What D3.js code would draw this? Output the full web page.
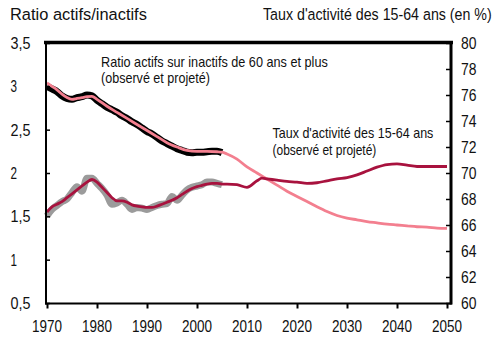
<!DOCTYPE html>
<html><head><meta charset="utf-8">
<script src="https://cdn.jsdelivr.net/npm/d3@7"></script>
<style>
body{margin:0;background:#fff;}
svg{display:block;}
text{font-family:"Liberation Sans Narrow","Arial Narrow","Liberation Sans",Arial,sans-serif;fill:#111;}
</style></head>
<body><svg id="c" width="504" height="347"></svg>
<script>
// ---- data ----
const obsYears = d3.range(1970, 2006);
const ratioObserved = [3.00,2.97,2.94,2.89,2.86,2.85,2.87,2.88,2.90,2.89,2.84,2.80,2.76,2.73,2.70,2.66,2.63,2.59,2.56,2.52,2.48,2.45,2.41,2.37,2.34,2.31,2.28,2.26,2.24,2.235,2.24,2.24,2.245,2.25,2.25,2.235];
const activityObserved = [66.7,67.2,67.5,67.8,68.0,68.5,68.95,68.6,69.6,69.6,69.2,68.8,68.3,67.6,67.7,67.9,67.6,67.2,67.35,67.3,67.2,67.35,67.5,67.6,67.65,68.2,67.9,68.3,68.7,68.9,69.0,69.1,69.3,69.3,69.2,69.1];

const ratioYears = [1970,1971,1972,1973,1974,1975,1976,1977,1978,1979,1980,1982,1984,1986,1988,1990,1992,1994,1996,1998,2000,2002,2004,2005,2006,2008,2010,2012,2014,2016,2018,2020,2022,2024,2026,2028,2030,2032,2034,2036,2038,2040,2042,2044,2046,2048,2050];
const ratioValues = [3.04,3.00,2.96,2.91,2.87,2.85,2.86,2.87,2.88,2.885,2.85,2.77,2.70,2.63,2.56,2.49,2.42,2.35,2.30,2.26,2.25,2.25,2.245,2.24,2.22,2.16,2.07,2.00,1.93,1.86,1.79,1.73,1.67,1.61,1.555,1.51,1.48,1.46,1.44,1.425,1.41,1.40,1.39,1.38,1.375,1.365,1.36];

const activityYears = [1970,1971,1972,1973,1974,1975,1976,1977,1978,1979,1980,1981,1982,1983,1984,1985,1986,1987,1988,1989,1990,1991,1992,1993,1994,1995,1996,1997,1998,1999,2000,2001,2002,2003,2004,2005,2006,2008,2010,2012,2013,2014,2016,2018,2020,2022,2024,2026,2028,2030,2032,2034,2036,2038,2040,2042,2044,2046,2048,2050];
const activityValues = [67.0,67.4,67.6,67.8,68.1,68.4,68.7,69.0,69.3,69.5,69.3,68.9,68.5,68.1,67.85,67.85,67.75,67.55,67.45,67.4,67.35,67.35,67.45,67.6,67.75,67.9,68.1,68.35,68.6,68.8,68.95,69.05,69.15,69.2,69.2,69.15,69.15,69.1,68.9,69.4,69.6,69.55,69.45,69.35,69.3,69.2,69.25,69.4,69.55,69.65,69.85,70.15,70.45,70.65,70.7,70.6,70.5,70.5,70.5,70.5];

const xTicks = [1970,1980,1990,2000,2010,2020,2030,2040,2050];
const leftTicks = [0.5,1,1.5,2,2.5,3,3.5];
const rightTicks = [60,62,64,66,68,70,72,74,76,78,80];
const titleLeft = "Ratio actifs/inactifs";
const titleRight = "Taux d'activité des 15-64 ans (en %)";
const noteRatio = ["Ratio actifs sur inactifs de 60 ans et plus", "(observé et projeté)"];
const noteActivity = ["Taux d'activité des 15-64 ans", "(observé et projeté)"];

// ---- chart ----
const svg = d3.select("#c");
const x = d3.scaleLinear().domain([1970, 2050]).range([47, 447]);
const yL = d3.scaleLinear().domain([0.5, 3.5]).range([303, 43]);
const yR = d3.scaleLinear().domain([60, 80]).range([303, 43]);
const fmt = d => String(d).replace(".", ",");

// place a text at (px,py) with given anchor, squeezed horizontally to width w
function label(parent, str, px, py, size, w, anchor){
  const t = parent.append("text").attr("font-size", size).attr("text-anchor", anchor || "start").text(str);
  const w0 = t.node().getComputedTextLength();
  const s = w0 > 0 ? w / w0 : 1;
  t.attr("transform", `translate(${px},${py}) scale(${s},1)`);
  return t;
}

// titles
label(svg, titleLeft, 10, 19.5, 16.5, 137);
label(svg, titleRight, 263, 19.5, 16.5, 229);

// lines
const lineL = (xs, vs) => d3.line().x((d,i)=>x(xs[i])).y(d=>yL(d)).curve(d3.curveMonotoneX)(vs);
const lineR = (xs, vs) => d3.line().x((d,i)=>x(xs[i])).y(d=>yR(d)).curve(d3.curveMonotoneX)(vs);

svg.append("path").attr("d", lineR(obsYears, activityObserved)).attr("fill","none")
  .attr("stroke","#9b9b9b").attr("stroke-width",7).attr("stroke-linejoin","round");
svg.append("path").attr("d", lineL(obsYears, ratioObserved)).attr("fill","none")
  .attr("stroke","#000").attr("stroke-width",7).attr("stroke-linejoin","round");
svg.append("path").attr("d", lineL(ratioYears, ratioValues)).attr("fill","none")
  .attr("stroke","#f37f8f").attr("stroke-width",2.8);
svg.append("path").attr("d", lineR(activityYears, activityValues)).attr("fill","none")
  .attr("stroke","#a8123e").attr("stroke-width",2.8);

// axes (lines and ticks from d3 axes; labels placed from the same scales)
const gL = svg.append("g").attr("transform","translate(46,0)")
  .call(d3.axisLeft(yL).tickValues(leftTicks).tickFormat(()=>"").tickSizeInner(-4).tickSizeOuter(0));
gL.select(".domain").remove();
gL.selectAll(".tick line").attr("stroke","#000").attr("stroke-width",1.5);
leftTicks.forEach(v => { const s = fmt(v); label(svg, s, 10.5, yL(v) + 6, 17, s.length > 1 ? 20 : 6.5); });

const gR = svg.append("g").attr("transform","translate(451,0)")
  .call(d3.axisRight(yR).tickValues(rightTicks).tickFormat(()=>"").tickSizeInner(-5).tickSizeOuter(0));
gR.select(".domain").remove();
gR.selectAll(".tick line").attr("stroke","#000").attr("stroke-width",1.5);
rightTicks.forEach(v => label(svg, String(v), 461, yR(v) + 6, 17, 15.5));

const gB = svg.append("g").attr("transform","translate(0,303.5)")
  .call(d3.axisBottom(x).tickValues(xTicks).tickFormat(()=>"").tickSizeInner(5).tickSizeOuter(0));
gB.select(".domain").remove();
gB.selectAll(".tick line").attr("stroke","#000").attr("stroke-width",2);
xTicks.forEach(v => label(svg, String(v), x(v), 331.5, 17, 30, "middle"));

// frame
const fr = svg.append("g").attr("stroke","#000");
fr.append("line").attr("x1",44).attr("x2",453).attr("y1",42.5).attr("y2",42.5).attr("stroke-width",3.5);
fr.append("line").attr("x1",46).attr("x2",46).attr("y1",42).attr("y2",304.5).attr("stroke-width",2);
fr.append("line").attr("x1",451).attr("x2",451).attr("y1",42).attr("y2",304.5).attr("stroke-width",3);
fr.append("line").attr("x1",45).attr("x2",452).attr("y1",303.5).attr("y2",303.5).attr("stroke-width",2);

// annotations
label(svg, noteRatio[0], 101, 67, 14, 227);
label(svg, noteRatio[1], 101, 83, 14, 109);
label(svg, noteActivity[0], 272.5, 138, 14, 161);
label(svg, noteActivity[1], 272.5, 154.5, 14, 104);
</script></body></html>
